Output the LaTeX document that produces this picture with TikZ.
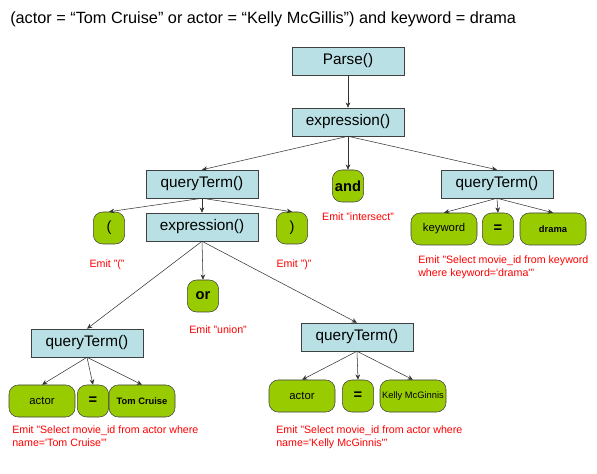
\documentclass[tikz,border=0pt]{standalone}
\usepackage{fontspec}
\setmainfont{Liberation Sans}
\usetikzlibrary{arrows.meta}
\definecolor{boxcyan}{RGB}{185,224,228}
\definecolor{tokgreen}{RGB}{153,204,0}

\begin{document}
\begin{tikzpicture}[x=0.75pt,y=-0.75pt,
        func/.style={draw=black!75, fill=boxcyan, minimum width=84pt, minimum height=21pt, inner sep=0pt, font=\fontsize{11.5}{14}\selectfont},
        tok/.style={draw=black!75, fill=tokgreen, rounded corners=7pt, minimum width=23.5pt, minimum height=24pt, inner sep=0pt, font=\fontsize{11}{13}\selectfont},
        widetok/.style={tok, minimum width=49.5pt, font=\fontsize{8.5}{10}\selectfont},
        emit/.style={red, font=\fontsize{8}{10}\selectfont, align=left, inner sep=0pt},
        edge/.style={draw=black!80, -{Stealth[length=4pt,width=3.5pt]}}
      ]
        \useasboundingbox (0,0) rectangle (597,474);

        % Anfrage
        \node[anchor=west, inner sep=0pt, font=\fontsize{12.2}{14}\selectfont] (title) at (10,19)
          {(actor = “Tom Cruise” or actor = “Kelly McGillis”) and keyword = drama};

        % Obere Ebene
        \node[func] (parse) at (348,61) {Parse()};
        \node[func] (expr) at (348,122) {expression()};
        \node[func] (qtl) at (202,184) {queryTerm()};
        \node[tok, font=\fontsize{11}{13}\selectfont\bfseries] (and) at (348,186) {and};
        \node[func] (qtr) at (497,184) {queryTerm()};
        \node[emit] (emitand) at (358,217) {Emit "intersect"};

        % Klammerausdruck
        \node[tok] (lp) at (109,228) {(};
        \node[func] (expr2) at (202,227) {expression()};
        \node[tok] (rp) at (292,228) {)};
        \node[emit] (emitlp) at (107,265) {Emit "("};
        \node[emit] (emitrp) at (294,265) {Emit ")"};
        \node[tok, font=\fontsize{11}{13}\selectfont\bfseries] (or) at (203,296) {or};
        \node[emit] (emitor) at (218,330) {Emit "union"};

        % keyword = drama
        \node[widetok] (kw) at (444,229) {keyword};
        \node[tok, font=\fontsize{11}{13}\selectfont\bfseries] (eqk) at (498,229) {=};
        \node[widetok, font=\fontsize{7}{9}\selectfont\bfseries] (drama) at (553,229) {drama};
        \node[emit, anchor=west] (emitkw) at (418,267)
          {Emit "Select movie\_id from keyword\\where keyword=\textquotesingle drama\textquotesingle"};

        % actor = Tom Cruise
        \node[func] (qta) at (87,343) {queryTerm()};
        \node[widetok] (actora) at (42,401) {actor};
        \node[tok, font=\fontsize{11}{13}\selectfont\bfseries] (eqa) at (93,401) {=};
        \node[widetok, font=\fontsize{7}{9}\selectfont\bfseries] (tom) at (142,401) {Tom Cruise};
        \node[emit, anchor=west] (emita) at (12,436)
          {Emit "Select movie\_id from actor where\\name=\textquotesingle Tom Cruise\textquotesingle"};

        % actor = Kelly McGinnis
        \node[func] (qtb) at (357,337) {queryTerm()};
        \node[widetok] (actorb) at (302,396) {actor};
        \node[tok, font=\fontsize{11}{13}\selectfont\bfseries] (eqb) at (358,396) {=};
        \node[widetok, font=\fontsize{7}{9}\selectfont] (kelly) at (413,396) {Kelly McGinnis};
        \node[emit, anchor=west] (emitb) at (276,437)
          {Emit "Select movie\_id from actor where\\name=\textquotesingle Kelly McGinnis\textquotesingle"};

        % Kanten
        \draw[edge] (parse.south) -- (expr.north);
        \draw[edge] (expr.south) -- (qtl.north);
        \draw[edge] (expr.south) -- (and.north);
        \draw[edge] (expr.south) -- (qtr.north);
        \draw[edge] (qtl.south) -- (lp.north);
        \draw[edge] (qtl.south) -- (expr2.north);
        \draw[edge] (qtl.south) -- (rp.north);
        \draw[edge] (qtr.south) -- (kw.north);
        \draw[edge] (qtr.south) -- (eqk.north);
        \draw[edge] (qtr.south) -- (drama.north);
        \draw[edge] (expr2.south) -- (or.north);
        \draw[edge] (expr2.south) -- (qta.north);
        \draw[edge] (expr2.south) -- (qtb.north);
        \draw[edge] (qta.south) -- (actora.north);
        \draw[edge] (qta.south) -- (eqa.north);
        \draw[edge] (qta.south) -- (tom.north);
        \draw[edge] (qtb.south) -- (actorb.north);
        \draw[edge] (qtb.south) -- (eqb.north);
        \draw[edge] (qtb.south) -- (kelly.north);
      \end{tikzpicture}
\end{document}
